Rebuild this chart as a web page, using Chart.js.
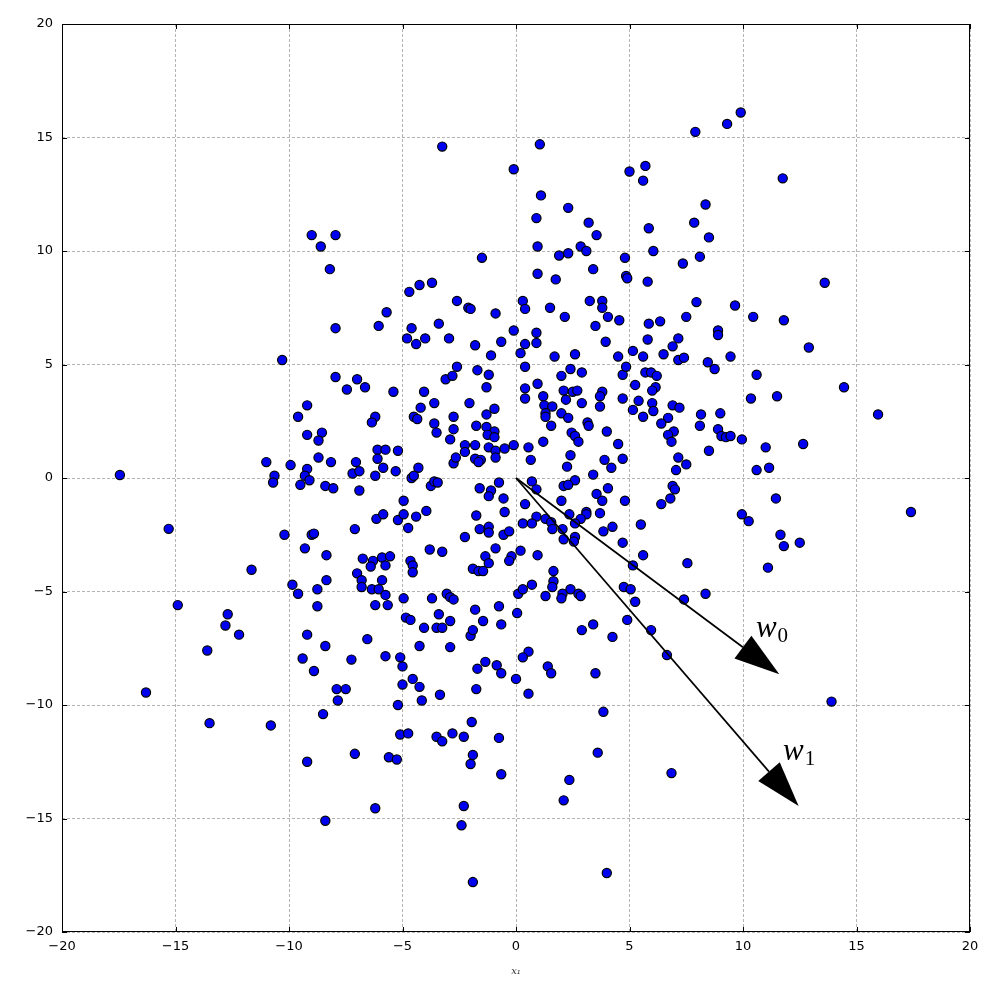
<!DOCTYPE html>
<html>
<head>
<meta charset="utf-8">
<script src="https://cdn.jsdelivr.net/npm/chart.js@4.4.0/dist/chart.umd.min.js"></script>
<style>
html, body { margin: 0; padding: 0; background: #fff; }
#wrap { width: 1000px; height: 982px; }
</style>
</head>
<body>
<div id="wrap"><canvas id="scatterChart" width="1000" height="982"></canvas></div>
<script>
// point coordinates
const xs = [
  -17.45, -15.3, -11.65, -11.0, -10.64, -10.7, -9.93, -10.2, -9.6, -9.2, -9.2, -9.2, -9.3, -9.1, -9.5, -9.0, -9.3, -9.85, -9.6, -14.9, -12.7, -12.8, -10.3, -9.0, -16.3, -12.2, -13.6, -13.5, -10.8, -9.2, -9.4, -8.9, -9.2,
  -3.25, -0.1, -8.6, -7.95, -8.2, -1.5, -4.7, -4.25, -3.7, -2.6, -2.1, -2.0, -0.9, -5.7, -7.95, -6.05, -4.6, -4.8, -4.4, -4.0, -3.4, -2.95, -1.8, -1.1, -0.65, -0.1, 0.3, 0.4, 0.4, 0.2,
  1.05, 9.9, 9.3, 7.9, 5.0, 5.7, 5.6, 1.1, 2.3, 0.9, 3.2, 3.55, 0.95, 1.9, 2.3, 2.85, 3.1, 0.95, 1.75, 3.4, 4.8, 4.85, 4.9, 5.8, 5.85, 6.05, 7.35, 8.1, 7.85, 8.35, 8.5, 3.25, 3.8, 3.8, 1.5, 2.15, 4.05, 4.55, 3.5, 0.9, 0.9, 3.95, 5.85, 6.35, 5.8, 7.5, 7.95, 9.65, 8.9, 8.9, 7.15, 6.9, 1.7, 2.6, 4.5, 5.15, 5.6, 6.5, 7.15, 7.4, 8.45, 9.45,
  11.75, 13.6, 10.45, 11.8, 12.9,
  10.6, 14.45, 11.5, 10.35, 15.95, 11.0, 12.65, 10.6, 11.15, 11.45, 17.4, 10.25, 11.65, 11.8, 12.5, 11.1, 13.9,
  2.9, 4.25, 0.55, 1.4, 1.55, 3.5, 0.55, 5.95, 6.65, 3.85, 3.6, 2.35, 2.1, 6.85, 4.0,
  -4.05, -3.5, -3.25, -2.0, -1.9, -8.4, -6.55, -4.25, -2.9, -7.25, -5.75, -5.1, -5.0, -4.55, -5.0, -4.25, -7.9, -7.5, -7.85, -5.2, -4.15, -3.35, -1.75, -1.7, -1.35, -0.85, -0.65, 0.0, 0.3, -8.5, -1.95, -7.1, -5.6, -5.25, -5.1, -4.75, -3.5, -3.25, -2.8, -2.3, -1.9, -2.0, -0.75, -0.65, -6.2, -2.3, -2.4, -8.4, -1.9,
  -7.95, -7.0, -7.45, -6.65, -5.4, -4.05, -3.1, -2.8, -2.6, -1.7, -1.2, -1.3, 0.4, 0.4, 0.4, -3.6, -4.2, -2.05, -4.5, -4.35, -3.6, -3.5, -6.2, -6.35, -8.55, -8.7, -2.75, -1.3, -0.95, -1.75, -1.3, -0.95, -1.25, -0.95, -2.75, -2.9, -2.25, -2.25, -1.8, -1.2, -0.9, -0.9, -0.5, -0.1, -1.8, -1.55, -1.65, -2.75, -2.65, -8.7, -8.15, -7.05, -7.2, -6.9, -6.1, -5.75, -6.1, -5.2, -6.2, -5.85, -5.3, -4.3, -4.6, -4.5, -3.75, -3.6, -3.45, -8.4, -8.05, -6.9, -4.95, -3.95, -6.15, -5.85, -5.2, -4.95, -4.4, -4.75, -7.1, -8.9, -1.6, -1.1, -1.2, -0.75, -0.55, -0.5, -1.75, -1.6, -1.2, -1.2, -2.25, -0.55, -0.3, -0.9, -3.8, -3.25, -8.35, -6.75, -6.3, -5.9, -5.55, -6.4, -5.75, -7.0, -6.8, -6.8, -5.9, -6.35, -6.05, -5.75, -6.2, -5.65, -8.35, -8.75, -8.75, -4.95, -4.65, -4.55, -4.55, -3.7, -3.05, -2.9, -2.75, -3.4, -2.9, -4.85, -4.65, -1.8, -1.45, -0.75, -0.65, 0.1, 0.3, 0.05, -1.35, -1.2, -1.9, -1.65, -1.45, -0.2, -0.3, 0.2, 0.3, 0.4,
  2.4, 2.0, 2.9, 4.7, 4.85, 5.7, 5.95, 6.2, 5.25, 6.15, 6.0, 0.95, 2.1, 2.5, 2.7, 3.8, 3.7, 1.2, 1.25, 1.6, 2.2, 2.9, 3.7, 4.7, 5.15, 5.4, 6.0, 6.05, 5.6, 6.9, 7.2, 6.7, 6.4, 6.95, 6.7, 6.85, 8.15, 8.1, 9.0, 8.9, 9.05, 9.25, 9.45, 9.95, 1.3, 1.3, 2.0, 2.3, 1.55, 3.15, 3.2, 2.45, 2.6, 2.75, 4.0, 1.2, 4.5, 0.55, 2.4, 3.9, 4.7, 0.65, 2.25, 4.2, 7.15, 7.5, 7.05, 8.5, 3.4, 2.6, 2.1, 2.3, 0.7, 0.9, 4.05, 6.9, 7.0, 6.8, 6.4, 2.0, 3.55, 3.8, 4.8, 9.95, 3.7, 2.35, 3.1, 3.1, 2.85, 2.6, 0.9, 0.7, 1.3, 1.55, 1.6, 2.05, 4.25, 3.85, 5.5, 2.1, 2.6, 2.55, 4.7, 0.95, 5.6, 7.55, 5.15, 1.65, 1.65, 1.6, 0.7, 2.4, 2.05, 2.0, 2.75, 2.85, 1.3, 4.75, 5.05, 5.25, 4.9, 3.4, 7.4, 8.35, 8.75
];
const ys = [
  0.13, -2.24, -4.04, 0.7, 0.1, -0.2, 0.57, -2.5, 2.7, 3.2, 1.9, 0.4, 0.1, -0.1, -0.3, -2.5, -3.1, -4.7, -5.1, -5.6, -6.0, -6.5, 5.2, 10.7, -9.45, -6.9, -7.6, -10.8, -10.9, -6.9, -7.95, -8.5, -12.5,
  14.6, 13.6, 10.2, 10.7, 9.2, 9.7, 8.2, 8.5, 8.6, 7.8, 7.5, 7.45, 7.25, 7.3, 6.6, 6.7, 6.6, 6.15, 5.9, 6.15, 6.8, 6.15, 5.85, 5.4, 6.0, 6.5, 7.8, 7.45, 5.9, 5.5,
  14.7, 16.1, 15.6, 15.25, 13.5, 13.75, 13.1, 12.45, 11.9, 11.45, 11.25, 10.7, 10.2, 9.8, 9.9, 10.2, 10.0, 9.0, 8.75, 9.2, 9.7, 8.9, 8.8, 8.65, 11.0, 10.0, 9.45, 9.75, 11.25, 12.05, 10.6, 7.8, 7.8, 7.5, 7.5, 7.1, 7.1, 6.95, 6.7, 6.4, 5.95, 6.0, 6.8, 6.9, 6.1, 7.1, 7.75, 7.6, 6.5, 6.3, 6.15, 5.8, 5.35, 5.45, 5.35, 5.6, 5.35, 5.45, 5.2, 5.3, 5.1, 5.35,
  13.2, 8.6, 7.1, 6.95, 5.75,
  4.55, 4.0, 3.6, 3.5, 2.8, 1.35, 1.5, 0.35, 0.45, -0.9, -1.5, -1.9, -2.5, -3.0, -2.85, -3.95, -9.85,
  -6.7, -7.0, -7.65, -8.3, -8.6, -8.6, -9.5, -6.7, -7.8, -10.3, -12.1, -13.3, -14.2, -13.0, -17.4,
  -6.6, -6.6, -6.6, -6.95, -6.7, -7.4, -7.1, -7.4, -7.45, -8.0, -7.85, -7.9, -8.3, -8.85, -9.1, -9.2, -9.3, -9.3, -9.8, -10.0, -9.8, -9.55, -9.3, -8.4, -8.1, -8.25, -8.6, -8.85, -7.9, -10.4, -10.75, -12.15, -12.3, -12.4, -11.3, -11.25, -11.4, -11.6, -11.25, -11.4, -12.2, -12.6, -11.45, -13.05, -14.55, -14.45, -15.3, -15.1, -17.8,
  4.45, 4.35, 3.9, 4.0, 3.8, 3.8, 4.35, 4.5, 4.9, 4.75, 4.55, 4.0, 4.9, 3.95, 3.5, 3.3, 3.1, 3.3, 2.7, 2.6, 2.4, 2.0, 2.7, 2.45, 2.0, 1.65, 2.7, 2.8, 3.05, 2.3, 2.25, 2.05, 1.9, 1.8, 2.15, 1.7, 1.45, 1.15, 1.45, 1.35, 1.2, 0.9, 1.3, 1.45, 0.85, 0.8, 0.7, 0.65, 0.9, 0.9, 0.7, 0.7, 0.2, 0.3, 1.25, 1.25, 0.85, 1.2, 0.1, 0.45, 0.3, 0.45, 0.0, 0.1, -0.35, -0.15, -0.2, -0.35, -0.45, -0.55, -1.0, -1.45, -1.8, -1.6, -1.85, -1.6, -1.7, -2.2, -2.25, -2.45, -0.45, -0.55, -0.8, -0.2, -0.9, -1.5, -1.65, -2.25, -2.15, -2.4, -2.6, -2.5, -2.35, -3.1, -3.15, -3.25, -3.4, -3.55, -3.65, -3.5, -3.45, -3.9, -3.85, -4.2, -4.5, -4.8, -4.5, -4.9, -4.9, -5.15, -5.6, -5.6, -4.5, -4.9, -5.65, -5.3, -3.65, -3.85, -4.15, -5.3, -5.1, -5.25, -5.35, -6.0, -6.3, -6.15, -6.25, -5.8, -6.3, -5.65, -6.45, -5.1, -4.9, -5.95, -3.45, -3.75, -4.0, -4.1, -4.1, -3.45, -3.65, -3.2, -2.0, -1.15,
  4.8, 4.5, 4.65, 4.55, 4.9, 4.65, 4.65, 4.5, 4.1, 4.0, 3.85, 4.15, 3.85, 3.8, 3.85, 3.8, 3.6, 3.6, 3.2, 3.15, 3.45, 3.3, 3.15, 3.5, 3.0, 3.4, 3.3, 2.95, 2.7, 3.2, 3.1, 2.65, 2.4, 2.05, 1.9, 1.6, 2.8, 2.3, 2.85, 2.15, 1.85, 1.8, 1.85, 1.7, 2.85, 2.7, 2.85, 2.65, 2.3, 2.45, 2.3, 2.0, 1.85, 1.6, 2.05, 1.6, 1.5, 1.35, 1.0, 0.8, 0.85, 0.8, 0.5, 0.45, 0.9, 0.6, 0.35, 1.2, 0.15, -0.1, -0.35, -0.3, -0.15, -0.5, -0.45, -0.35, -0.5, -0.9, -1.15, -1.0, -0.7, -1.0, -1.0, -1.6, -1.55, -1.6, -1.5, -1.6, -1.8, -2.0, -1.7, -2.0, -1.8, -1.95, -2.25, -2.25, -2.15, -2.35, -2.05, -2.7, -2.6, -2.8, -2.85, -3.4, -3.4, -3.75, -3.85, -4.1, -4.55, -4.8, -4.7, -4.9, -5.1, -5.3, -5.1, -5.2, -5.2, -4.8, -4.9, -5.45, -6.25, -6.45, -5.35, -5.1, 4.8
];
const tickValues = [-20, -15, -10, -5, 0, 5, 10, 15, 20];

// the two arrows start at the origin
const arrowTipX = [11.6, 12.45];
const arrowTipY = [-8.65, -14.45];
const arrowSubs = ['0', '1'];
const labelX = [10.57, 11.76];
const labelY = [-7.0, -12.42];

const HEAD_LEN = 2;      // data units
const HEAD_WIDTH = 1.25; // data units

function fmtTick(v) {
    return v < 0 ? '\u2212' + Math.abs(v) : String(v);
}

const pts = xs.map((x, i) => ({ x: x, y: ys[i] }));

const frameAndArrows = {
    id: 'frameAndArrows',
    afterDatasetsDraw(chart) {
        const ctx = chart.ctx;
        const a = chart.chartArea;
        const sx = chart.scales.x;
        const sy = chart.scales.y;
        const unit = sx.getPixelForValue(1) - sx.getPixelForValue(0);
        const ox = sx.getPixelForValue(0);
        const oy = sy.getPixelForValue(0);

        ctx.save();
        for (let i = 0; i < arrowTipX.length; i++) {
            const tx = sx.getPixelForValue(arrowTipX[i]);
            const ty = sy.getPixelForValue(arrowTipY[i]);
            const len = Math.hypot(tx - ox, ty - oy);
            const dx = (tx - ox) / len, dy = (ty - oy) / len;
            const bx = tx - dx * HEAD_LEN * unit;
            const by = ty - dy * HEAD_LEN * unit;
            const hw = HEAD_WIDTH * unit / 2;

            ctx.strokeStyle = '#000';
            ctx.lineWidth = 1.7;
            ctx.beginPath();
            ctx.moveTo(ox, oy);
            ctx.lineTo(bx, by);
            ctx.stroke();

            ctx.fillStyle = '#000';
            ctx.beginPath();
            ctx.moveTo(tx, ty);
            ctx.lineTo(bx - dy * hw, by + dx * hw);
            ctx.lineTo(bx + dy * hw, by - dx * hw);
            ctx.closePath();
            ctx.fill();

            // label w with subscript
            const lx = sx.getPixelForValue(labelX[i]);
            const ly = sy.getPixelForValue(labelY[i]);
            ctx.font = 'italic 31px "Liberation Serif"';
            ctx.textAlign = 'left';
            ctx.textBaseline = 'alphabetic';
            ctx.fillText('w', lx, ly);
            const wWidth = ctx.measureText('w').width;
            ctx.font = '21px "Liberation Serif"';
            ctx.fillText(arrowSubs[i], lx + wWidth + 1, ly + 5);
        }

        // frame
        ctx.strokeStyle = '#000';
        ctx.lineWidth = 1;
        ctx.setLineDash([]);
        ctx.strokeRect(Math.round(a.left) + 0.5, Math.round(a.top) + 0.5,
            Math.round(a.width) - 1, Math.round(a.height) - 1);

        // inward ticks on all sides
        ctx.beginPath();
        tickValues.forEach(v => {
            const px = Math.round(sx.getPixelForValue(v)) + 0.5;
            ctx.moveTo(px, a.bottom); ctx.lineTo(px, a.bottom - 5);
            ctx.moveTo(px, a.top); ctx.lineTo(px, a.top + 5);
            const py = Math.round(sy.getPixelForValue(v)) + 0.5;
            ctx.moveTo(a.left, py); ctx.lineTo(a.left + 5, py);
            ctx.moveTo(a.right, py); ctx.lineTo(a.right - 5, py);
        });
        ctx.stroke();
        ctx.restore();
    }
};

const tickFont = { family: 'DejaVu Sans', size: 13 };

new Chart(document.getElementById('scatterChart'), {
    type: 'scatter',
    data: {
        datasets: [{
            data: pts,
            backgroundColor: '#0000f0',
            borderColor: '#000000',
            borderWidth: 1.2,
            pointRadius: 4.6,
            pointHoverRadius: 4.6
        }]
    },
    options: {
        responsive: false,
        animation: false,
        events: [],
        layout: { padding: { top: 24, right: 30, left: 0, bottom: 0 } },
        plugins: {
            legend: { display: false },
            tooltip: { enabled: false }
        },
        scales: {
            x: {
                type: 'linear',
                min: -20,
                max: 20,
                afterBuildTicks: s => { s.ticks = tickValues.map(v => ({ value: v })); },
                afterFit: s => { s.height = 50; },
                grid: { color: '#b4b4b4', lineWidth: 1, drawTicks: false },
                border: { display: false, dash: [3, 2] },
                ticks: {
                    padding: 7,
                    color: '#000',
                    font: tickFont,
                    maxRotation: 0,
                    autoSkip: false,
                    callback: v => fmtTick(v)
                },
                title: {
                    display: true,
                    text: 'x\u2081',
                    color: '#333',
                    font: { family: 'DejaVu Serif', style: 'italic', size: 10 },
                    padding: { top: 0, bottom: 5 }
                }
            },
            y: {
                type: 'linear',
                min: -20,
                max: 20,
                afterBuildTicks: s => { s.ticks = tickValues.map(v => ({ value: v })); },
                afterFit: s => { s.width = 62; },
                grid: { color: '#b4b4b4', lineWidth: 1, drawTicks: false },
                border: { display: false, dash: [3, 2] },
                ticks: {
                    padding: 9,
                    color: '#000',
                    font: tickFont,
                    autoSkip: false,
                    callback: v => fmtTick(v)
                }
            }
        }
    },
    plugins: [frameAndArrows]
});
</script>
</body>
</html>
